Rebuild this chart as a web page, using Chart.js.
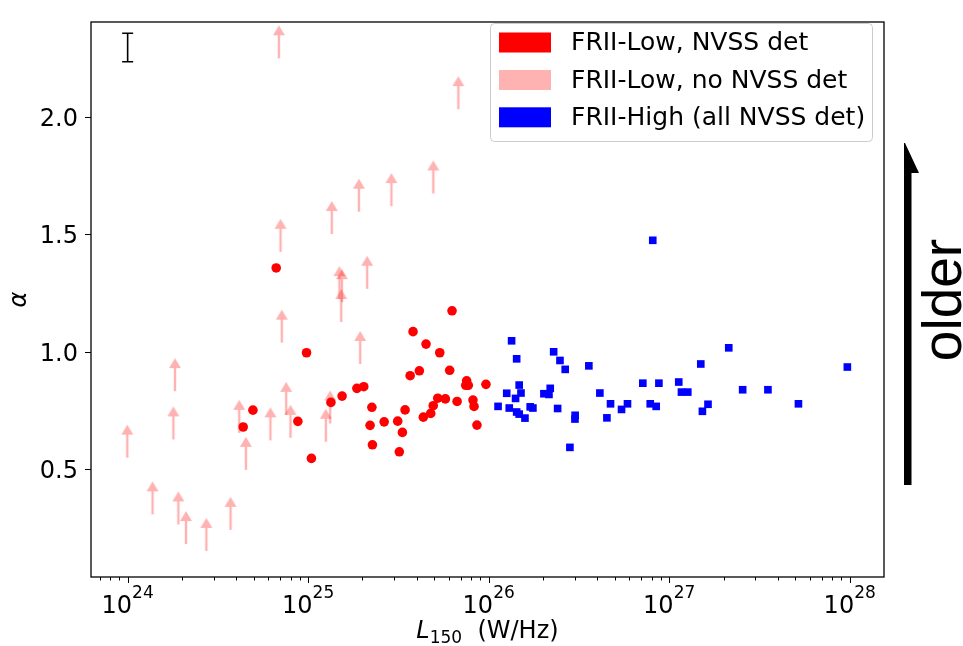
<!DOCTYPE html>
<html>
<head>
<meta charset="utf-8">
<script src="https://cdn.jsdelivr.net/npm/chart.js@4.4.0/dist/chart.umd.min.js"></script>
<style>
  html, body { margin: 0; padding: 0; background: #fff; }
  #wrap { width: 963px; height: 646px; }
</style>
</head>
<body>
<div id="wrap"><canvas id="chart" width="963" height="646"></canvas></div>
<script>
// log10(L150 / W/Hz) and spectral index alpha
const lowDetLogL = [24.823, 24.991, 24.694, 24.640, 24.943, 25.018, 25.126, 25.188, 25.270, 25.308,
  25.353, 25.343, 25.356, 25.421, 25.496, 25.522, 25.505, 25.537, 25.565, 25.581,
  25.616, 25.653, 25.729, 25.797, 25.784, 25.638, 25.679, 25.693, 25.718, 25.760,
  25.825, 25.878, 25.873, 25.887, 25.913, 25.919, 25.935, 25.985];
const lowDetAlpha = [1.357, 0.995, 0.750, 0.678, 0.702, 0.544, 0.783, 0.810, 0.843, 0.850,
  0.762, 0.685, 0.602, 0.700, 0.703, 0.655, 0.572, 0.751, 0.897, 1.085,
  0.918, 1.032, 0.995, 1.174, 0.920, 0.720, 0.736, 0.769, 0.801, 0.798,
  0.787, 0.875, 0.856, 0.856, 0.793, 0.766, 0.686, 0.860];

// lower limits (no NVSS detection)
const lowLimLogL = [24.838, 25.832, 25.693, 25.461, 25.281, 25.131, 24.847, 25.327, 25.173, 25.187,
  25.183, 24.854, 25.288, 24.262, 24.253, 23.998, 24.618, 24.655, 24.791, 24.878,
  24.902, 25.122, 25.098, 24.138, 24.281, 24.323, 24.436, 24.570];
const lowLimAlpha = [2.252, 2.035, 1.675, 1.621, 1.597, 1.502, 1.426, 1.268, 1.224, 1.211,
  1.126, 1.038, 0.947, 0.831, 0.625, 0.547, 0.653, 0.495, 0.621, 0.730,
  0.632, 0.693, 0.615, 0.305, 0.262, 0.178, 0.149, 0.239];

const highLogL = [26.909, 26.127, 26.155, 26.360, 26.395, 26.424, 26.555, 27.330, 27.175, 27.987,
  26.169, 26.100, 26.179, 26.149, 26.052, 26.114, 26.155, 26.169, 26.201, 26.230,
  26.245, 26.306, 26.334, 26.341, 26.382, 26.479, 26.478, 26.450, 26.616, 26.675,
  26.655, 26.736, 26.769, 26.854, 26.943, 26.895, 26.928, 27.053, 27.068, 27.103,
  27.215, 27.184, 27.407, 27.547, 27.716];
const highAlpha = [1.475, 1.046, 0.969, 0.999, 0.962, 0.924, 0.939, 1.016, 0.947, 0.934,
  0.857, 0.822, 0.823, 0.800, 0.766, 0.759, 0.742, 0.733, 0.716, 0.764,
  0.759, 0.820, 0.817, 0.843, 0.757, 0.728, 0.712, 0.591, 0.823, 0.777,
  0.717, 0.753, 0.777, 0.865, 0.865, 0.777, 0.766, 0.870, 0.827, 0.827,
  0.775, 0.745, 0.837, 0.837, 0.777];

const seriesLabels = ['FRII-Low, NVSS det', 'FRII-Low, no NVSS det', 'FRII-High (all NVSS det)'];
const seriesColors = ['#ff0000', 'rgba(255,0,0,0.3)', '#0000ff'];

const xTickExps = [24, 25, 26, 27, 28];
const yTicks = [0.5, 1.0, 1.5, 2.0];
const xRangeLog = [23.797, 28.19];
const yRange = [0.0376, 2.407];

// typical error bar shown in the corner
const errBarLogL = 24;
const errBarAlpha = 2.298;
const errBarHalf = 0.061;

const FONT = '"DejaVu Sans"';

function toPoints(logs, vals) {
    return logs.map((l, i) => ({ x: Math.pow(10, l), y: vals[i] }));
}

// upward arrow marker, base sits on the data point
function makeArrow() {
    const c = document.createElement('canvas');
    c.width = 14;
    c.height = 68;
    const g = c.getContext('2d');
    g.fillStyle = seriesColors[1];
    g.beginPath();
    g.moveTo(7, 1);
    g.lineTo(13, 11);
    g.lineTo(8.2, 11);
    g.lineTo(8.2, 34);
    g.lineTo(5.8, 34);
    g.lineTo(5.8, 11);
    g.lineTo(1, 11);
    g.closePath();
    g.fill();
    return c;
}

const decorPlugin = {
    id: 'decor',
    afterDraw(chart) {
        const ctx = chart.ctx;
        const xs = chart.scales.x;
        const ys = chart.scales.y;
        const a = chart.chartArea;
        ctx.save();

        // frame
        ctx.strokeStyle = '#000';
        ctx.lineWidth = 1.3;
        ctx.strokeRect(a.left, a.top, a.right - a.left, a.bottom - a.top);

        // x ticks (major + minor)
        ctx.lineWidth = 1;
        for (let e = xTickExps[0] - 1; e <= xTickExps[xTickExps.length - 1]; e++) {
            for (let m = 1; m <= 9; m++) {
                const v = m * Math.pow(10, e);
                if (v < xs.min || v > xs.max) continue;
                const px = Math.round(xs.getPixelForValue(v)) + 0.5;
                const len = m === 1 ? 6 : 3.5;
                ctx.beginPath();
                ctx.moveTo(px, a.bottom);
                ctx.lineTo(px, a.bottom + len);
                ctx.stroke();
            }
        }
        // x tick labels 10^n
        ctx.fillStyle = '#000';
        ctx.textAlign = 'left';
        ctx.textBaseline = 'alphabetic';
        xTickExps.forEach(e => {
            const px = xs.getPixelForValue(Math.pow(10, e));
            ctx.font = '24px ' + FONT;
            const wb = ctx.measureText('10').width;
            ctx.font = '17px ' + FONT;
            const ws = ctx.measureText(String(e)).width;
            const left = px - (wb + ws) / 2;
            ctx.font = '24px ' + FONT;
            ctx.fillText('10', left, 613);
            ctx.font = '17px ' + FONT;
            ctx.fillText(String(e), left + wb, 598);
        });

        // y ticks and labels
        ctx.textAlign = 'right';
        ctx.font = '24px ' + FONT;
        yTicks.forEach(t => {
            const py = Math.round(ys.getPixelForValue(t)) + 0.5;
            ctx.beginPath();
            ctx.moveTo(a.left, py);
            ctx.lineTo(a.left - 6, py);
            ctx.stroke();
            ctx.fillText(t.toFixed(1), 78, py + 8.7);
        });

        // axis titles
        ctx.save();
        ctx.translate(20, (a.top + a.bottom) / 2);
        ctx.rotate(-Math.PI / 2);
        ctx.textAlign = 'center';
        ctx.textBaseline = 'middle';
        ctx.font = 'italic 24px ' + FONT;
        ctx.fillText('α', 0, 0);
        ctx.restore();

        ctx.textAlign = 'left';
        ctx.textBaseline = 'alphabetic';
        ctx.font = 'italic 24px ' + FONT;
        const wL = ctx.measureText('L').width;
        ctx.font = '17px ' + FONT;
        const wSub = ctx.measureText('150').width;
        ctx.font = '24px ' + FONT;
        const wUnit = ctx.measureText('  (W/Hz)').width;
        let tx = (a.left + a.right) / 2 - (wL + wSub + wUnit) / 2;
        ctx.font = 'italic 24px ' + FONT;
        ctx.fillText('L', tx, 638);
        ctx.font = '17px ' + FONT;
        ctx.fillText('150', tx + wL, 643);
        ctx.font = '24px ' + FONT;
        ctx.fillText('  (W/Hz)', tx + wL + wSub, 638);

        // corner error bar
        const ex = xs.getPixelForValue(Math.pow(10, errBarLogL));
        const eTop = ys.getPixelForValue(errBarAlpha + errBarHalf);
        const eBot = ys.getPixelForValue(errBarAlpha - errBarHalf);
        ctx.lineWidth = 1.6;
        ctx.beginPath();
        ctx.moveTo(ex, eTop); ctx.lineTo(ex, eBot);
        ctx.moveTo(ex - 5.5, eTop); ctx.lineTo(ex + 5.5, eTop);
        ctx.moveTo(ex - 5.5, eBot); ctx.lineTo(ex + 5.5, eBot);
        ctx.stroke();

        // legend
        ctx.beginPath();
        ctx.roundRect(490.5, 23.5, 382, 118, 4);
        ctx.fillStyle = 'rgba(255,255,255,0.8)';
        ctx.fill();
        ctx.strokeStyle = '#cccccc';
        ctx.lineWidth = 1;
        ctx.stroke();
        ctx.font = '25px ' + FONT;
        ctx.textAlign = 'left';
        ctx.textBaseline = 'middle';
        [42.5, 80, 117.3].forEach((cy, i) => {
            ctx.fillStyle = seriesColors[i];
            ctx.fillRect(499, cy - 10, 52, 20);
            ctx.fillStyle = '#000';
            ctx.fillText(seriesLabels[i], 571, cy + 1);
        });

        // "older" arrow on the right
        ctx.fillStyle = '#000';
        ctx.beginPath();
        ctx.moveTo(905, 143);
        ctx.lineTo(919, 173);
        ctx.lineTo(911.5, 173);
        ctx.lineTo(911.5, 485);
        ctx.lineTo(904, 485);
        ctx.lineTo(904, 143);
        ctx.closePath();
        ctx.fill();

        ctx.save();
        ctx.translate(961, 300);
        ctx.rotate(-Math.PI / 2);
        ctx.textAlign = 'center';
        ctx.textBaseline = 'alphabetic';
        ctx.font = '55px "Liberation Sans"';
        ctx.fillText('older', 0, 0);
        ctx.restore();

        ctx.restore();
    }
};

new Chart(document.getElementById('chart'), {
    type: 'scatter',
    data: {
        datasets: [{
            label: seriesLabels[0],
            data: toPoints(lowDetLogL, lowDetAlpha),
            backgroundColor: seriesColors[0],
            pointStyle: 'circle',
            pointRadius: 4.8,
            pointBorderWidth: 0
        }, {
            label: seriesLabels[1],
            data: toPoints(lowLimLogL, lowLimAlpha),
            backgroundColor: seriesColors[1],
            pointStyle: makeArrow(),
            pointRadius: 3,
            pointBorderWidth: 0
        }, {
            label: seriesLabels[2],
            data: toPoints(highLogL, highAlpha),
            backgroundColor: seriesColors[2],
            pointStyle: 'rect',
            pointRadius: 5.4,
            pointBorderWidth: 0
        }]
    },
    options: {
        responsive: false,
        animation: false,
        events: [],
        layout: { padding: { left: 91, right: 79, top: 22, bottom: 69 } },
        plugins: {
            legend: { display: false },
            tooltip: { enabled: false }
        },
        scales: {
            x: {
                type: 'logarithmic',
                display: false,
                min: Math.pow(10, xRangeLog[0]),
                max: Math.pow(10, xRangeLog[1])
            },
            y: {
                type: 'linear',
                display: false,
                min: yRange[0],
                max: yRange[1]
            }
        }
    },
    plugins: [decorPlugin]
});
</script>
</body>
</html>
